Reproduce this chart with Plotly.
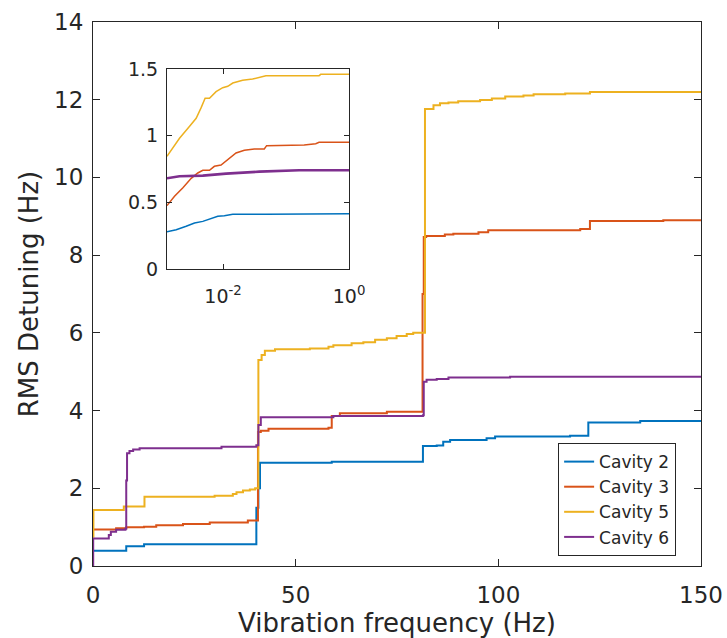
import plotly.graph_objects as go

names = ["Cavity 2", "Cavity 3", "Cavity 5", "Cavity 6"]
colors = ["#0072BD", "#D95319", "#EDB120", "#7E2F8E"]

# ---- main plot: cumulative RMS detuning (Hz) vs vibration frequency (Hz), step-wise
c2_f = [0, 8.2, 12.6, 40.3, 40.8, 41.2, 58.9, 81.4, 84.8, 86.4, 88.1, 97.1, 99.2, 117.7, 122.2, 135.0, 150]
c2_v = [0.39, 0.51, 0.56, 1.5, 2.0, 2.66, 2.68, 3.09, 3.10, 3.2, 3.24, 3.29, 3.33, 3.35, 3.69, 3.73, 3.73]

c3_f = [0, 5.7, 8.2, 12.6, 15.6, 22.2, 28.8, 38.2, 40.7, 41.4, 43.3, 58.1, 58.9, 60.9, 72.5,
        81.3, 81.6, 82.2, 86.8, 88.9, 95.1, 97.5, 120.2, 122.6, 140.7, 150]
c3_v = [0.94, 0.97, 1.0, 1.01, 1.05, 1.08, 1.12, 1.17, 3.45, 3.48, 3.53, 3.56, 3.86, 3.93, 3.97,
        7.0, 8.47, 8.49, 8.53, 8.55, 8.59, 8.64, 8.67, 8.88, 8.90, 8.90]

c5_f = [0, 0.1, 7.6, 12.7, 30.0, 34.5, 35.4, 37.0, 38.7, 40.0, 40.8, 41.6, 42.4, 44.9, 53.5,
        58.1, 59.3, 63.8, 66.7, 69.6, 72.5, 74.9, 77.4, 79.0, 81.9, 84.0, 85.6, 87.7, 90.1,
        95.5, 98.4, 101.7, 106.2, 108.7, 116.5, 122.6, 150]
c5_v = [0.75, 1.44, 1.53, 1.78, 1.81, 1.85, 1.90, 1.94, 1.97, 2.0, 5.30, 5.43, 5.54, 5.58, 5.60,
        5.64, 5.68, 5.73, 5.76, 5.82, 5.86, 5.92, 5.97, 6.0, 11.76, 11.86, 11.91, 11.93, 11.96,
        11.99, 12.03, 12.08, 12.11, 12.14, 12.16, 12.20, 12.21]

c6_f = [0, 0.05, 3.9, 4.4, 5.7, 8.0, 8.2, 8.4, 9.0, 9.9, 11.5, 31.7, 40.3, 40.8, 41.4, 59.3,
        81.4, 81.6, 82.3, 84.8, 87.7, 102.9, 150]
c6_v = [0, 0.71, 0.80, 0.88, 0.93, 0.96, 2.2, 2.9, 2.96, 3.0, 3.03, 3.07, 3.11, 3.63, 3.83, 3.86,
        3.88, 4.74, 4.79, 4.81, 4.85, 4.87, 4.88]

# ---- inset: low-frequency part (log frequency axis)
i2_f = [0.00129, 0.00181, 0.0026, 0.00353, 0.00478, 0.00646, 0.00826, 0.0105, 0.0143, 0.048, 1.0]
i2_v = [0.28, 0.295, 0.32, 0.345, 0.357, 0.375, 0.395, 0.40, 0.41, 0.41, 0.415]

i3_f = [0.00129, 0.0017, 0.00231, 0.00313, 0.00398, 0.00478, 0.0061, 0.0073, 0.0093, 0.0112,
        0.0134, 0.0161, 0.0218, 0.0314, 0.0452, 0.0492, 0.194, 0.296, 0.335, 1.0]
i3_v = [0.475, 0.545, 0.61, 0.68, 0.72, 0.74, 0.74, 0.77, 0.78, 0.81,
        0.845, 0.87, 0.89, 0.90, 0.90, 0.925, 0.93, 0.94, 0.95, 0.95]

i5_f = [0.00129, 0.00204, 0.00295, 0.00375, 0.0045, 0.0052, 0.0061, 0.00776, 0.0099, 0.0119,
        0.0143, 0.0205, 0.0295, 0.048, 0.335, 0.356, 1.0]
i5_v = [0.845, 0.98, 1.07, 1.13, 1.21, 1.28, 1.28, 1.33, 1.36, 1.37,
        1.395, 1.415, 1.425, 1.45, 1.45, 1.46, 1.46]

i6_f = [0.00129, 0.00204, 0.00478, 0.0112, 0.0377, 0.162, 1.0]
i6_v = [0.68, 0.695, 0.70, 0.715, 0.73, 0.74, 0.74]

x_ticks = [0, 50, 100, 150]
y_ticks = [0, 2, 4, 6, 8, 10, 12, 14]
inset_x_ticks = [0.01, 1]
inset_x_labels = ["10<sup>-2</sup>", "10<sup>0</sup>"]
inset_y_ticks = [0, 0.5, 1, 1.5]
inset_y_labels = ["0", "0.5", "1", "1.5"]

main = [(c2_f, c2_v), (c3_f, c3_v), (c5_f, c5_v), (c6_f, c6_v)]
inset = [(i2_f, i2_v), (i3_f, i3_v), (i5_f, i5_v), (i6_f, i6_v)]

FONT = "DejaVu Sans"
AX = "#262626"

fig = go.Figure()
for (f, v), n, c in zip(main, names, colors):
    fig.add_trace(go.Scatter(x=f, y=v, mode="lines", name=n,
                             line=dict(color=c, width=2, shape="hv"),
                             xaxis="x", yaxis="y"))
for k, ((f, v), n, c) in enumerate(zip(inset, names, colors)):
    fig.add_trace(go.Scatter(x=f, y=v, mode="lines", name=n, showlegend=False,
                             line=dict(color=c, width=2.6 if k == 3 else 1.5),
                             xaxis="x2", yaxis="y2"))

common = dict(showgrid=False, zeroline=False, showline=True, linecolor=AX, linewidth=1,
              mirror="ticks", ticks="inside", tickcolor=AX, tickwidth=1, automargin=False)

fig.update_layout(
    width=727, height=638,
    margin=dict(l=93, r=26, t=22, b=72),
    paper_bgcolor="white", plot_bgcolor="white",
    font=dict(family=FONT, color=AX),
    xaxis=dict(domain=[0, 1], range=[0, 150], tickvals=x_ticks, ticklen=7,
               tickfont=dict(size=23, color=AX), ticklabelstandoff=8,
               title=dict(text="Vibration frequency (Hz)", font=dict(size=26, color=AX), standoff=3),
               **common),
    yaxis=dict(domain=[0, 1], range=[0, 14], tickvals=y_ticks, ticklen=7,
               tickfont=dict(size=23, color=AX), ticklabelstandoff=4,
               title=dict(text="RMS Detuning (Hz)", font=dict(size=26, color=AX), standoff=8),
               **common),
    xaxis2=dict(domain=[0.1217, 0.4211], anchor="y2", type="log", range=[-2.889, 0],
                tickvals=inset_x_ticks, ticktext=inset_x_labels, ticklen=5,
                tickfont=dict(size=19, color=AX), ticklabelstandoff=10, **common),
    yaxis2=dict(domain=[0.546, 0.9136], anchor="x2", range=[0, 1.5],
                tickvals=inset_y_ticks, ticktext=inset_y_labels, ticklen=5,
                tickfont=dict(size=19, color=AX), ticklabelstandoff=4, **common),
    legend=dict(x=0.765, y=0.226, xanchor="left", yanchor="top",
                bgcolor="white", bordercolor=AX, borderwidth=1,
                font=dict(size=17, color=AX), tracegroupgap=0),
    showlegend=True,
)

fig.write_html("out.html")
